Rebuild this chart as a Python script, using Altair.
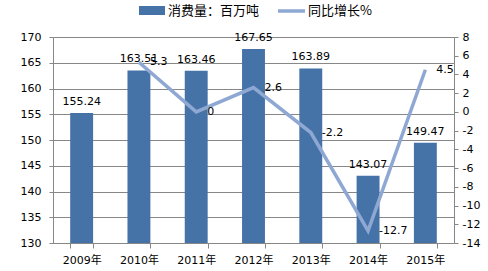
import altair as alt
import pandas as pd

years = ["2009年", "2010年", "2011年", "2012年", "2013年", "2014年", "2015年"]
consumption = [155.24, 163.51, 163.46, 167.65, 163.89, 143.07, 149.47]
growth = [None, 5.3, 0, 2.6, -2.2, -12.7, 4.5]
series_names = ["消费量：百万吨", "同比增长%"]
left_ticks = [130, 135, 140, 145, 150, 155, 160, 165, 170]
right_ticks = [-14, -12, -10, -8, -6, -4, -2, 0, 2, 4, 6, 8]

df = pd.DataFrame({"year": years, "consumption": consumption, "growth": growth})
df["growth_label"] = [("" if g is None else (str(int(g)) if g == int(g) else str(g))) for g in growth]

FONT = "DejaVu Sans, Noto Sans CJK SC"
CJK = "Noto Sans CJK SC"
BAR = "#4572A7"
LINE = "#8EA8D3"
GRID = "#878787"
W, H = 401, 206

x_enc = alt.X(
    "year:N", sort=years, title=None,
    scale=alt.Scale(paddingInner=0.6, paddingOuter=0.3),
    axis=alt.Axis(labelAngle=0, tickBand="extent", tickSize=5, tickColor=GRID,
                  domainColor=GRID, labelFont=FONT, labelFontSize=11,
                  labelColor="#000000", labelPadding=6, grid=False),
)

y_left = alt.Y(
    "consumption:Q", title=None,
    scale=alt.Scale(domain=[130, 170], zero=False, nice=False),
    axis=alt.Axis(values=left_ticks, grid=True, gridColor=GRID, domainColor=GRID,
                  tickColor=GRID, tickSize=4, labelFont=FONT, labelFontSize=11,
                  labelColor="#000000", labelPadding=8),
)

bars = alt.Chart(df).mark_bar(color=BAR).encode(
    x=x_enc, y=y_left, y2=alt.Y2(datum=130)
)
bar_text = alt.Chart(df).mark_text(
    baseline="alphabetic", dy=-8, font=FONT, fontSize=11, color="#000000"
).encode(
    x=x_enc,
    y=y_left,
    text=alt.Text("consumption:Q", format=".2f"),
)

y_right = alt.Y(
    "growth:Q", title=None,
    scale=alt.Scale(domain=[-14, 8], zero=False, nice=False),
    axis=alt.Axis(orient="right", values=right_ticks, grid=False, domainColor=GRID,
                  tickColor=GRID, tickSize=4, labelFont=FONT, labelFontSize=11,
                  labelColor="#000000", labelPadding=4,
                  labelExpr="replace(datum.label, '\u2212', '-')"),
)

line = alt.Chart(df).mark_line(color=LINE, strokeWidth=3.5).encode(
    x=x_enc, y=y_right
)
line_text = alt.Chart(df).mark_text(
    align="left", baseline="middle", dx=11, font=FONT, fontSize=11, color="#000000"
).encode(
    x=x_enc,
    y=y_right,
    text="growth_label:N",
)

leg_df = pd.DataFrame({"name": series_names})
leg_rect = alt.Chart(leg_df).transform_filter(alt.datum.name == series_names[0]).mark_rect(color=BAR).encode(
    x=alt.value(86), x2=alt.value(112), y=alt.value(-31), y2=alt.value(-22)
)
leg_rect_text = alt.Chart(leg_df).transform_filter(alt.datum.name == series_names[0]).mark_text(
    align="left", baseline="middle", font=CJK, fontSize=13, color="#000000"
).encode(x=alt.value(115), y=alt.value(-26), text="name:N")
leg_line = alt.Chart(leg_df).transform_filter(alt.datum.name == series_names[1]).mark_rule(
    color=LINE, strokeWidth=3.5
).encode(x=alt.value(225), x2=alt.value(252), y=alt.value(-26))
leg_line_text = alt.Chart(leg_df).transform_filter(alt.datum.name == series_names[1]).mark_text(
    align="left", baseline="middle", font=CJK, fontSize=13, color="#000000"
).encode(x=alt.value(255), y=alt.value(-26), text="name:N")

chart = alt.layer(
    alt.layer(bars, bar_text),
    alt.layer(line, line_text),
    leg_rect, leg_rect_text, leg_line, leg_line_text,
).resolve_scale(y="independent").properties(
    width=W, height=H,
    autosize=alt.AutoSizeParams(type="none"),
    padding={"left": 53, "top": 37, "right": 34, "bottom": 28},
    background="white",
).configure_view(stroke=None)

chart.save("out.html", embed_options={"renderer": "svg", "actions": False})
